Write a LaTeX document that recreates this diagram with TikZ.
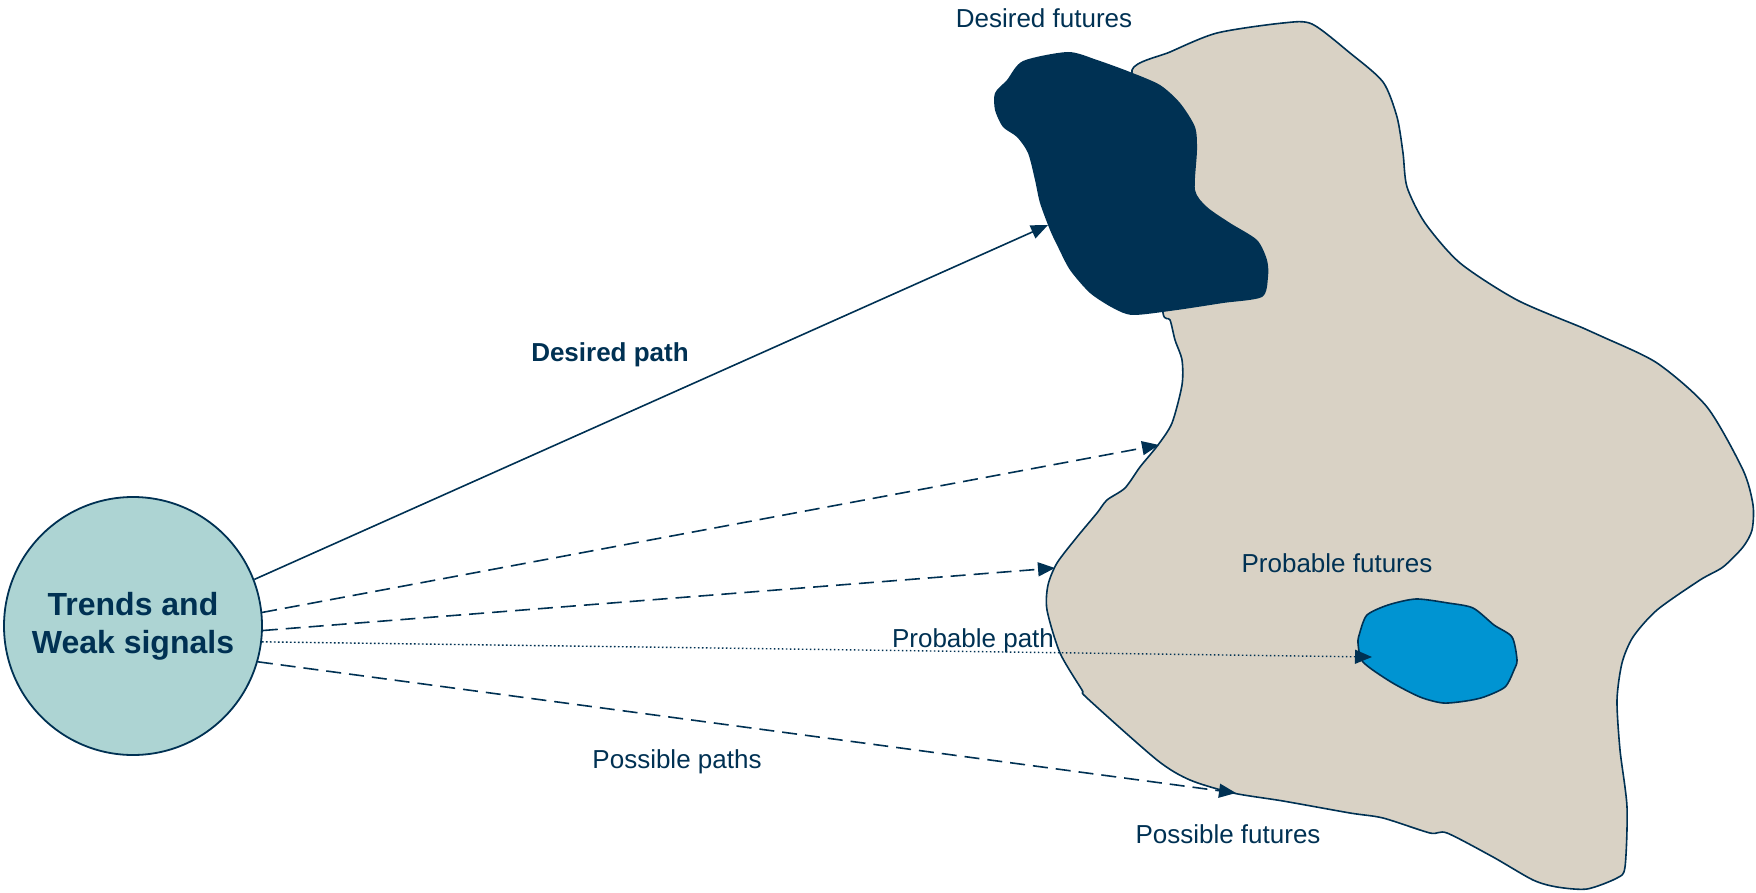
\documentclass[tikz,border=0pt]{standalone}
\usepackage{fontspec}
\setmainfont{Liberation Sans}
\usetikzlibrary{arrows.meta}
\definecolor{FutNavy}{RGB}{0,49,83}
\definecolor{FutSand}{RGB}{217,210,197}
\definecolor{FutBlue}{RGB}{0,148,210}
\definecolor{FutTeal}{RGB}{173,212,211}
\tikzset{
  fut label/.style={font=\fontsize{13}{15}\selectfont, text=FutNavy, inner sep=0pt, anchor=base},
  fut bold/.style={fut label, font=\fontsize{13}{15}\selectfont\bfseries},
  fut signal/.style={
    circle,
    draw=FutNavy,
    line width=0.9pt,
    fill=FutTeal,
    minimum size=129pt,
    inner sep=0pt,
    align=center,
    text=FutNavy,
    font=\fontsize{16}{19}\selectfont\bfseries
  },
  fut blob/.style={draw=FutNavy, line width=0.8pt, line join=round},
  fut arrow/.style={-{Triangle[length=8.5pt,width=7pt]}, line width=0.8pt, FutNavy},
  fut dashed/.style={fut arrow, dash pattern=on 7.5pt off 4pt},
  fut dotted/.style={fut arrow, line width=0.7pt, dash pattern=on 0.8pt off 1.2pt}
}
\begin{document}
\begin{tikzpicture}[x=0.5pt, y=-0.5pt]
\useasboundingbox (0,0) rectangle (1756,893);
% possible futures
\filldraw[fut blob, fill=FutSand] plot[smooth cycle, tension=0.45] coordinates {
  (1132,70) (1170,52) (1217,33) (1283,23) (1312,24) (1350,53) (1383,82) (1397,117)
  (1403,153) (1407,187) (1425,223) (1460,263) (1517,300) (1583,328) (1603,337)
  (1657,363) (1707,407) (1743,470) (1753,505) (1752,530) (1743,547) (1723,567)
  (1700,580) (1657,610) (1633,637) (1622,663) (1617,700) (1620,750) (1627,807)
  (1625,867) (1617,878) (1587,889) (1557,887) (1533,880) (1493,857) (1447,833)
  (1430,833) (1383,818) (1350,813) (1283,801) (1233,793) (1190,780) (1157,760)
  (1087,698) (1082,690) (1060,653) (1047,610) (1048,585) (1057,563) (1077,537)
  (1097,513) (1107,500) (1125,488) (1140,467) (1158,445) (1172,423) (1182,385)
  (1182,360) (1175,340) (1170,320) (1163,313) (1160,250) (1150,120)};
% desired futures
\fill[FutNavy] plot[smooth cycle, tension=0.45] coordinates {
  (1023,61) (1068,52) (1097,60) (1130,72) (1160,85) (1180,103) (1195,127) (1197,150)
  (1195,190) (1207,207) (1230,223) (1257,240) (1267,260) (1268,277) (1262,297)
  (1223,303) (1177,310) (1133,315) (1113,308) (1090,293) (1070,270) (1058,247)
  (1050,230) (1040,203) (1035,180) (1028,153) (1017,137) (1003,127) (995,110)
  (995,93) (1007,80)};
% probable futures
\filldraw[fut blob, fill=FutBlue] plot[smooth cycle, tension=0.45] coordinates {
  (1367,615) (1388,605) (1416,599) (1448,603) (1473,608) (1494,625) (1512,637)
  (1517,660) (1514,670) (1505,687) (1484,697) (1466,701) (1443,703) (1420,697)
  (1391,682) (1363,662) (1358,643) (1360,632)};

\node[fut signal] (trends) at (133,626) {Trends and\\Weak signals};

\node[fut label] (desfut) at (1044,28) {Desired futures};
\node[fut bold] (despath) at (610,361) {Desired path};
\node[fut label] (probfut) at (1337,572) {Probable futures};
\node[fut label] (probpath) at (973,647) {Probable path};
\node[fut label] (posspath) at (677,768) {Possible paths};
\node[fut label] (possfut) at (1228,843) {Possible futures};

\coordinate (desEnd) at (1048,225);
\coordinate (posEndA) at (1159,445);
\coordinate (posEndB) at (1055,568);
\coordinate (probEnd) at (1372,657);
\coordinate (posEndC) at (1236,793);

\draw[fut arrow] (trends.21) -- (desEnd);
\draw[fut dashed] (trends.6) -- (posEndA);
\draw[fut dashed] (trends.-2) -- (posEndB);
\draw[fut dotted] (trends.-7) -- (probEnd);
\draw[fut dashed] (trends.-16) -- (posEndC);
\end{tikzpicture}
\end{document}
